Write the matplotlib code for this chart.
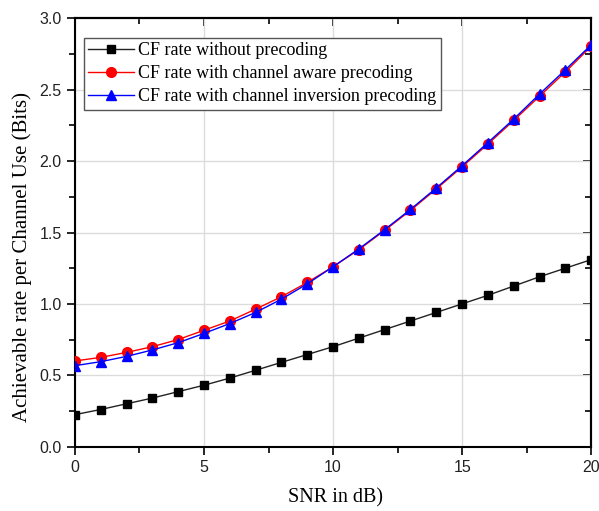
import matplotlib
matplotlib.use("Agg")
import matplotlib.pyplot as plt
from matplotlib.ticker import MultipleLocator

snr_db = list(range(0, 21))
rate_no_precoding = [0.224, 0.26, 0.30, 0.34, 0.385, 0.43, 0.48, 0.535, 0.59, 0.645, 0.70,
                     0.76, 0.82, 0.88, 0.94, 1.00, 1.06, 1.125, 1.19, 1.25, 1.31]
rate_aware = [0.60, 0.625, 0.66, 0.70, 0.75, 0.815, 0.88, 0.963, 1.05, 1.15, 1.26,
              1.38, 1.515, 1.655, 1.805, 1.96, 2.12, 2.285, 2.455, 2.625, 2.805]
rate_inversion = [0.567, 0.595, 0.632, 0.677, 0.728, 0.793, 0.862, 0.94, 1.033, 1.14, 1.26,
                  1.385, 1.52, 1.662, 1.812, 1.968, 2.13, 2.295, 2.47, 2.64, 2.815]

labels = ["CF rate without precoding",
          "CF rate with channel aware precoding",
          "CF rate with channel inversion precoding"]

serif = ["Liberation Serif", "DejaVu Serif"]
sans = ["Liberation Sans", "DejaVu Sans"]

fig = plt.figure(figsize=(5.99, 5.11), dpi=100)
ax = fig.add_axes([0.125, 0.126, 0.862, 0.838])

ax.plot(snr_db, rate_no_precoding, color="#222222", lw=1, marker="s", ms=6.2,
        mfc="black", mec="black", label=labels[0], zorder=3)
ax.plot(snr_db, rate_aware, color="red", lw=1, marker="o", ms=7,
        mfc="red", mec="red", label=labels[1], zorder=3)
ax.plot(snr_db, rate_inversion, color="blue", lw=1, marker="^", ms=7.5,
        mfc="blue", mec="blue", label=labels[2], zorder=4)

ax.set_xlim(0, 20)
ax.set_ylim(0, 3.0)
ax.xaxis.set_major_locator(MultipleLocator(5))
ax.xaxis.set_minor_locator(MultipleLocator(2.5))
ax.yaxis.set_major_locator(MultipleLocator(0.5))
ax.yaxis.set_minor_locator(MultipleLocator(0.25))
ax.yaxis.set_major_formatter(matplotlib.ticker.FormatStrFormatter("%.1f"))

ax.grid(True, which="major", color="#dcdcdc", lw=1)
ax.set_axisbelow(True)

for s in ax.spines.values():
    s.set_linewidth(1.5)
    s.set_color("black")

ax.tick_params(which="both", direction="out", top=False, right=False, width=1.2,
               labelsize=11.5, colors="black", labelcolor="#222222")
ax.tick_params(which="major", length=6)
ax.tick_params(which="minor", length=4)
ax2 = ax.secondary_xaxis("top")
ax2.xaxis.set_major_locator(MultipleLocator(5))
ax2.xaxis.set_minor_locator(MultipleLocator(2.5))
ax2.tick_params(which="both", direction="in", labeltop=False, width=1.2)
ax2.tick_params(which="major", length=6)
ax2.tick_params(which="minor", length=4)
ay2 = ax.secondary_yaxis("right")
ay2.yaxis.set_major_locator(MultipleLocator(0.5))
ay2.yaxis.set_minor_locator(MultipleLocator(0.25))
ay2.tick_params(which="both", direction="in", labelright=False, width=1.2)
ay2.tick_params(which="major", length=6)
ay2.tick_params(which="minor", length=4)
for sp in list(ax2.spines.values()) + list(ay2.spines.values()):
    sp.set_linewidth(1.5)

for lab in ax.get_xticklabels() + ax.get_yticklabels():
    lab.set_family(sans)

ax.set_xlabel("SNR in dB)", family=serif, fontsize=14.5)
ax.xaxis.set_label_coords(0.504, -0.098)
ax.set_ylabel("Achievable rate per Channel Use (Bits)", family=serif, fontsize=15)
ax.yaxis.set_label_coords(-0.083, 0.443)

leg = ax.legend(loc="upper left", bbox_to_anchor=(0.0174, 0.955), prop={"family": serif, "size": 13.0},
                frameon=True, fancybox=False, edgecolor="#555555", framealpha=1,
                handlelength=2.5, handletextpad=0.25, borderpad=0.25, labelspacing=0.33,
                borderaxespad=0)
leg.get_frame().set_linewidth(1)

fig.savefig("out.png", dpi=100)
